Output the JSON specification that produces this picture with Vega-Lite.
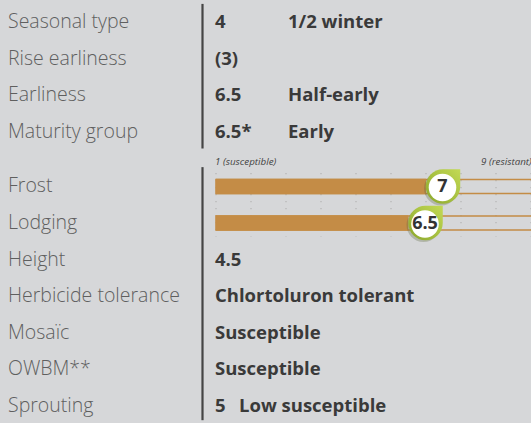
{
  "$schema": "https://vega.github.io/schema/vega-lite/v6.json",
  "width": 531,
  "height": 423,
  "autosize": {"type": "none"},
  "padding": 0,
  "background": "#d6d7d9",
  "config": {"view": {"stroke": null}},
  "datasets": {
    "traits": [
      {"row": 0, "trait": "Seasonal type", "score": "4", "note": "1/2 winter"},
      {"row": 1, "trait": "Rise earliness", "score": "(3)", "note": ""},
      {"row": 2, "trait": "Earliness", "score": "6.5", "note": "Half-early"},
      {"row": 3, "trait": "Maturity group", "score": "6.5*", "note": "Early"},
      {"row": 4.5, "trait": "Frost", "score": "", "note": ""},
      {"row": 5.5, "trait": "Lodging", "score": "", "note": ""},
      {"row": 6.5, "trait": "Height", "score": "4.5", "note": ""},
      {"row": 7.5, "trait": "Herbicide tolerance", "score": "Chlortoluron tolerant", "note": ""},
      {"row": 8.5, "trait": "Mosaïc", "score": "Susceptible", "note": ""},
      {"row": 9.5, "trait": "OWBM**", "score": "Susceptible", "note": ""},
      {"row": 10.5, "trait": "Sprouting", "score": "5", "note": ""}
    ],
    "sprout": [{"row": 10.5, "note": "Low susceptible"}],
    "ratings": [
      {"row": 4.5, "trait": "Frost", "rating": 7, "label": "7", "min": 1, "max": 10.5},
      {"row": 5.5, "trait": "Lodging", "rating": 6.5, "label": "6.5", "min": 1, "max": 10.5}
    ],
    "grid": [
      {"v": 1, "from": 4.13, "to": 5.87}, {"v": 2, "from": 4.13, "to": 5.87}, {"v": 3, "from": 4.13, "to": 5.87},
      {"v": 4, "from": 4.13, "to": 5.87}, {"v": 5, "from": 4.13, "to": 5.87}, {"v": 6, "from": 4.13, "to": 5.87},
      {"v": 7, "from": 4.13, "to": 5.87}, {"v": 8, "from": 4.13, "to": 5.87}, {"v": 9, "from": 4.13, "to": 5.87},
      {"v": 10, "from": 4.13, "to": 5.87}
    ],
    "scaleLabels": [{"row": 3.83, "v": 1, "text": "1 (susceptible)"}],
    "scaleLabelsRight": [{"row": 3.83, "v": 9, "text": "9 (resistant)"}],
    "divider": [{"from": -0.5, "to": 3.46}, {"from": 3.97, "to": 10.9}]
  },
  "layer": [
    {
      "data": {"name": "divider"},
      "mark": {"type": "rule", "stroke": "#454545", "strokeWidth": 2.2},
      "encoding": {
        "x": {"value": 202.5},
        "y": {"field": "from", "type": "quantitative", "scale": {"domain": [-0.47, 10.84], "reverse": true, "nice": false, "zero": false}, "axis": null},
        "y2": {"field": "to"}
      }
    },
    {
      "data": {"name": "grid"},
      "mark": {"type": "rule", "stroke": "#b3b3b3", "strokeWidth": 1.2, "strokeDash": [1.2, 5.8]},
      "encoding": {
        "x": {"field": "v", "type": "quantitative", "scale": {"domain": [1, 10], "range": [216, 531], "nice": false, "zero": false}, "axis": null},
        "y": {"field": "from", "type": "quantitative"},
        "y2": {"field": "to"}
      }
    },
    {
      "data": {"name": "ratings"},
      "mark": {"type": "bar", "orient": "horizontal", "size": 14, "fill": "transparent", "stroke": "#c48c46", "strokeWidth": 1.6},
      "encoding": {
        "x": {"field": "min", "type": "quantitative"},
        "x2": {"field": "max"},
        "y": {"field": "row", "type": "quantitative"}
      }
    },
    {
      "data": {"name": "ratings"},
      "mark": {"type": "bar", "orient": "horizontal", "size": 15.5, "fill": "#c48c46"},
      "encoding": {
        "x": {"field": "min", "type": "quantitative"},
        "x2": {"field": "rating"},
        "y": {"field": "row", "type": "quantitative"}
      }
    },
    {
      "data": {"name": "ratings"},
      "mark": {"type": "point", "shape": "M0,-1 L1,-1 L1,0 A1,1 0 1,1 0,-1 Z", "size": 1156, "filled": true, "fill": "#5d6640", "opacity": 0.3, "strokeWidth": 0},
      "encoding": {
        "x": {"field": "rating", "type": "quantitative"},
        "y": {"field": "row", "type": "quantitative"},
        "xOffset": {"value": 15},
        "yOffset": {"value": 2}
      }
    },
    {
      "data": {"name": "ratings"},
      "mark": {"type": "point", "shape": "M0,-1 L1,-1 L1,0 A1,1 0 1,1 0,-1 Z", "size": 1190, "filled": true, "fill": {"gradient": "linear", "x1": 1, "y1": 0, "x2": 0, "y2": 1, "stops": [{"offset": 0, "color": "#c3da55"}, {"offset": 1, "color": "#8aa62b"}]}, "strokeWidth": 0, "opacity": 1},
      "encoding": {
        "x": {"field": "rating", "type": "quantitative"},
        "y": {"field": "row", "type": "quantitative"},
        "xOffset": {"value": 17},
        "yOffset": {"value": 0}
      }
    },
    {
      "data": {"name": "ratings"},
      "mark": {"type": "point", "shape": "circle", "size": 760, "filled": true, "fill": "#ffffff", "strokeWidth": 0, "opacity": 1},
      "encoding": {
        "x": {"field": "rating", "type": "quantitative"},
        "y": {"field": "row", "type": "quantitative"},
        "xOffset": {"value": 16.5},
        "yOffset": {"value": 1}
      }
    },
    {
      "data": {"name": "ratings"},
      "mark": {"type": "text", "font": "Open Sans", "fontWeight": "bold", "fontSize": 18, "fill": "#333333", "align": "center", "baseline": "middle"},
      "encoding": {
        "x": {"field": "rating", "type": "quantitative"},
        "y": {"field": "row", "type": "quantitative"},
        "xOffset": {"value": 16.5},
        "yOffset": {"value": 1},
        "text": {"field": "label"}
      }
    },
    {
      "data": {"name": "scaleLabels"},
      "mark": {"type": "text", "font": "Open Sans", "fontStyle": "italic", "fontSize": 9.8, "fill": "#444444", "align": "left", "baseline": "middle", "dx": -1},
      "encoding": {
        "x": {"field": "v", "type": "quantitative"},
        "y": {"field": "row", "type": "quantitative"},
        "text": {"field": "text"}
      }
    },
    {
      "data": {"name": "scaleLabelsRight"},
      "mark": {"type": "text", "font": "Open Sans", "fontStyle": "italic", "fontSize": 9.8, "fill": "#444444", "align": "left", "baseline": "middle", "dx": -15},
      "encoding": {
        "x": {"field": "v", "type": "quantitative"},
        "y": {"field": "row", "type": "quantitative"},
        "text": {"field": "text"}
      }
    },
    {
      "data": {"name": "traits"},
      "mark": {"type": "text", "font": "Open Sans", "fontWeight": 300, "fontSize": 19.5, "fill": "#5f5f5f", "align": "left", "baseline": "middle"},
      "encoding": {
        "x": {"value": 8},
        "y": {"field": "row", "type": "quantitative"},
        "text": {"field": "trait"}
      }
    },
    {
      "data": {"name": "traits"},
      "mark": {"type": "text", "font": "Open Sans", "fontWeight": "bold", "fontSize": 18.5, "fill": "#3a3a3a", "align": "left", "baseline": "middle"},
      "encoding": {
        "x": {"value": 215},
        "y": {"field": "row", "type": "quantitative"},
        "text": {"field": "score"}
      }
    },
    {
      "data": {"name": "traits"},
      "mark": {"type": "text", "font": "Open Sans", "fontWeight": "bold", "fontSize": 18.5, "fill": "#3a3a3a", "align": "left", "baseline": "middle"},
      "encoding": {
        "x": {"value": 288},
        "y": {"field": "row", "type": "quantitative"},
        "text": {"field": "note"}
      }
    },
    {
      "data": {"name": "sprout"},
      "mark": {"type": "text", "font": "Open Sans", "fontWeight": "bold", "fontSize": 18.5, "fill": "#3a3a3a", "align": "left", "baseline": "middle"},
      "encoding": {
        "x": {"value": 239},
        "y": {"field": "row", "type": "quantitative"},
        "text": {"field": "note"}
      }
    }
  ]
}
